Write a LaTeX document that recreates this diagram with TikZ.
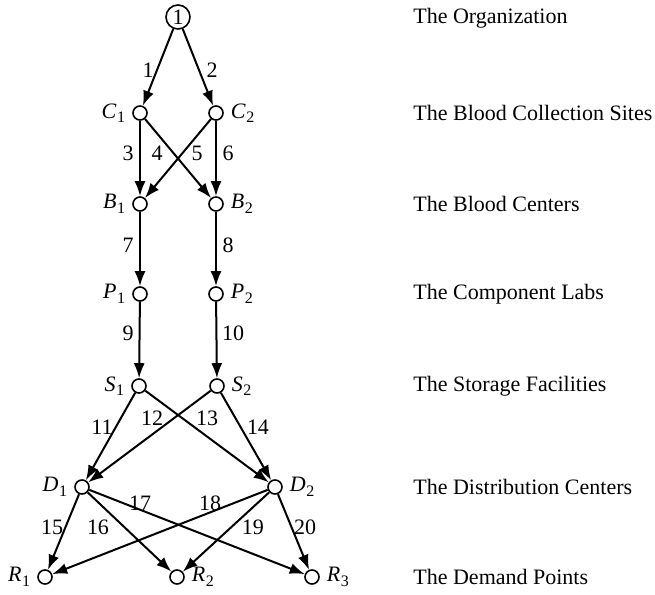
\documentclass[tikz,border=0pt]{standalone}
\usepackage{fontspec}
\setmainfont{Liberation Serif}
\usetikzlibrary{arrows.meta}
\newcommand\mylab[2]{\textit{#1}\kern0.3pt\raisebox{-0.45ex}{\fontsize{8}{8}\selectfont #2}}
\begin{document}
\begin{tikzpicture}[x=0.5pt,y=-0.5pt,
  every node/.style={font=\fontsize{11}{13}\selectfont},
  vtx/.style={circle,draw,line width=0.8pt,minimum size=7pt,inner sep=0pt,label distance=0pt},
  top/.style={circle,draw,line width=0.8pt,minimum size=12pt,inner sep=0pt},
  arc/.style={line width=1pt,-{Latex[length=7.5pt,width=5.5pt]}},
  num/.style={inner sep=0pt},
  lev/.style={anchor=west,inner sep=0pt}]
\useasboundingbox (0,0) rectangle (655,595);
\node[top] (O) at (178,17) {1};
\node[vtx,label=left:\mylab{C}{1}] (C1) at (140,113) {};
\node[vtx,label=right:\mylab{C}{2}] (C2) at (216,113) {};
\node[vtx,label=left:\mylab{B}{1}] (B1) at (140,204) {};
\node[vtx,label=right:\mylab{B}{2}] (B2) at (216,204) {};
\node[vtx,label=left:\mylab{P}{1}] (P1) at (140,294) {};
\node[vtx,label=right:\mylab{P}{2}] (P2) at (216,294) {};
\node[vtx,label=left:\mylab{S}{1}] (S1) at (139,386) {};
\node[vtx,label=right:\mylab{S}{2}] (S2) at (217,386) {};
\node[vtx,label=left:\mylab{D}{1}] (D1) at (82,487) {};
\node[vtx,label=right:\mylab{D}{2}] (D2) at (275,487) {};
\node[vtx,label=left:\mylab{R}{1}] (R1) at (45,577) {};
\node[vtx,label=right:\mylab{R}{2}] (R2) at (177,577) {};
\node[vtx,label=right:\mylab{R}{3}] (R3) at (312,577) {};
\draw[arc] (O) -- (C1);
\draw[arc] (O) -- (C2);
\draw[arc] (C1) -- (B1);
\draw[arc] (C1) -- (B2);
\draw[arc] (C2) -- (B1);
\draw[arc] (C2) -- (B2);
\draw[arc] (B1) -- (P1);
\draw[arc] (B2) -- (P2);
\draw[arc] (P1) -- (S1);
\draw[arc] (P2) -- (S2);
\draw[arc] (S1) -- (D1);
\draw[arc] (S1) -- (D2);
\draw[arc] (S2) -- (D1);
\draw[arc] (S2) -- (D2);
\draw[arc] (D1) -- (R1);
\draw[arc] (D1) -- (R2);
\draw[arc] (D1) -- (R3);
\draw[arc] (D2) -- (R1);
\draw[arc] (D2) -- (R2);
\draw[arc] (D2) -- (R3);
\node[num] at (148,70) {1};
\node[num] at (212,70) {2};
\node[num] at (128,153) {3};
\node[num] at (157,153) {4};
\node[num] at (197,153) {5};
\node[num] at (228,153) {6};
\node[num] at (128,245) {7};
\node[num] at (228,245) {8};
\node[num] at (128,333) {9};
\node[num] at (233,333) {10};
\node[num] at (102,427) {11};
\node[num] at (152,418) {12};
\node[num] at (207,418) {13};
\node[num] at (258,427) {14};
\node[num] at (52,527) {15};
\node[num] at (98,527) {16};
\node[num] at (140,503) {17};
\node[num] at (210,503) {18};
\node[num] at (253,527) {19};
\node[num] at (305,527) {20};
\node[lev] at (413,18) {The Organization};
\node[lev] at (413,113) {The Blood Collection Sites};
\node[lev] at (413,204) {The Blood Centers};
\node[lev] at (413,294) {The Component Labs};
\node[lev] at (413,386) {The Storage Facilities};
\node[lev] at (413,487) {The Distribution Centers};
\node[lev] at (413,577) {The Demand Points};
\end{tikzpicture}
\end{document}
